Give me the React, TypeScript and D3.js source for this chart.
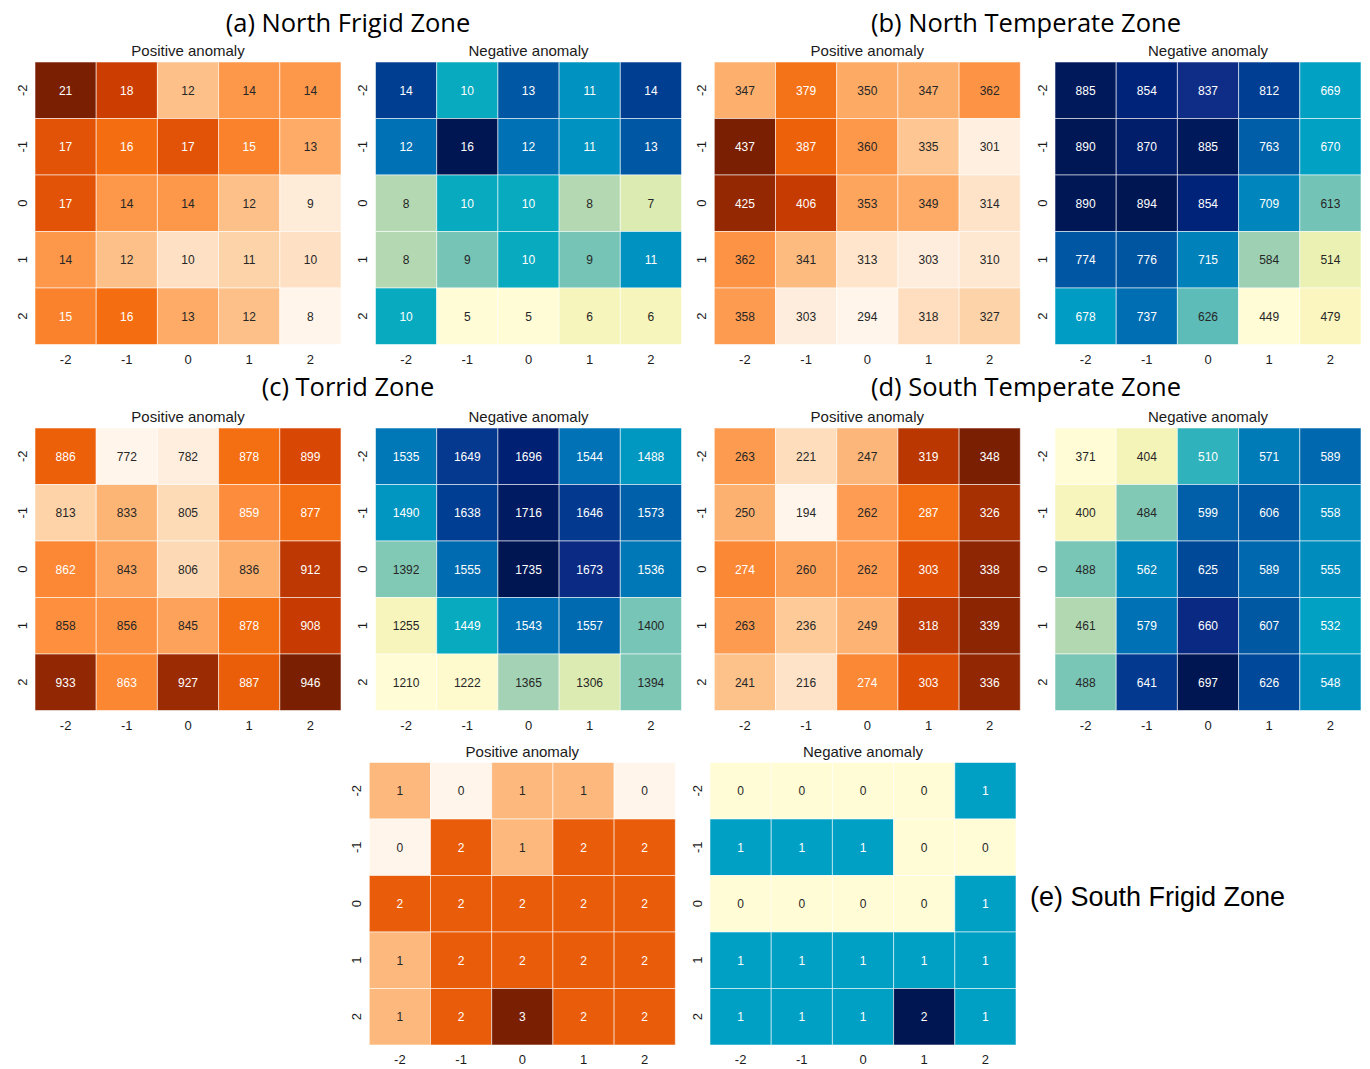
import React from "react";
import * as d3 from "d3";

// ---------------- data ----------------
const ROW_LABELS = ["-2", "-1", "0", "1", "2"];
const COL_LABELS = ["-2", "-1", "0", "1", "2"];
const SUBTITLES = ["Positive anomaly", "Negative anomaly"];

const TITLE_A = "(a) North Frigid Zone";
const TITLE_B = "(b) North Temperate Zone";
const TITLE_C = "(c) Torrid Zone";
const TITLE_D = "(d) South Temperate Zone";
const TITLE_E = "(e) South Frigid Zone";

const NF_POS = [
  [21, 18, 12, 14, 14],
  [17, 16, 17, 15, 13],
  [17, 14, 14, 12, 9],
  [14, 12, 10, 11, 10],
  [15, 16, 13, 12, 8],
];
const NF_NEG = [
  [14, 10, 13, 11, 14],
  [12, 16, 12, 11, 13],
  [8, 10, 10, 8, 7],
  [8, 9, 10, 9, 11],
  [10, 5, 5, 6, 6],
];
const NT_POS = [
  [347, 379, 350, 347, 362],
  [437, 387, 360, 335, 301],
  [425, 406, 353, 349, 314],
  [362, 341, 313, 303, 310],
  [358, 303, 294, 318, 327],
];
const NT_NEG = [
  [885, 854, 837, 812, 669],
  [890, 870, 885, 763, 670],
  [890, 894, 854, 709, 613],
  [774, 776, 715, 584, 514],
  [678, 737, 626, 449, 479],
];
const TZ_POS = [
  [886, 772, 782, 878, 899],
  [813, 833, 805, 859, 877],
  [862, 843, 806, 836, 912],
  [858, 856, 845, 878, 908],
  [933, 863, 927, 887, 946],
];
const TZ_NEG = [
  [1535, 1649, 1696, 1544, 1488],
  [1490, 1638, 1716, 1646, 1573],
  [1392, 1555, 1735, 1673, 1536],
  [1255, 1449, 1543, 1557, 1400],
  [1210, 1222, 1365, 1306, 1394],
];
const ST_POS = [
  [263, 221, 247, 319, 348],
  [250, 194, 262, 287, 326],
  [274, 260, 262, 303, 338],
  [263, 236, 249, 318, 339],
  [241, 216, 274, 303, 336],
];
const ST_NEG = [
  [371, 404, 510, 571, 589],
  [400, 484, 599, 606, 558],
  [488, 562, 625, 589, 555],
  [461, 579, 660, 607, 532],
  [488, 641, 697, 626, 548],
];
const SF_POS = [
  [1, 0, 1, 1, 0],
  [0, 2, 1, 2, 2],
  [2, 2, 2, 2, 2],
  [1, 2, 2, 2, 2],
  [1, 2, 3, 2, 2],
];
const SF_NEG = [
  [0, 0, 0, 0, 1],
  [1, 1, 1, 0, 0],
  [0, 0, 0, 0, 1],
  [1, 1, 1, 1, 1],
  [1, 1, 1, 2, 1],
];

// ---------------- colour maps ----------------
const ORANGE_DOMAIN = [0, 0.125, 0.25, 0.375, 0.5, 0.625, 0.75, 0.875, 1];
const ORANGE_RANGE = ["#fff5eb", "#fee6ce", "#fdd0a2", "#fdae6b", "#fd8d3c", "#f36a0c", "#d44002", "#a02d03", "#7a1f02"];
const BLUE_DOMAIN = [0, 0.07, 0.15, 0.27, 0.3, 0.37, 0.4, 0.45, 0.5, 0.58, 0.64, 0.71, 0.82, 0.87, 0.91, 1];
const BLUE_RANGE = ["#fffcd6", "#fbf6be", "#e9f1b1", "#b6dab2", "#a0d2b4", "#72c3b6", "#5bbab8", "#08abbe", "#00a0c4", "#0088bd", "#0070b4", "#005ca6", "#003d92", "#102d88", "#00237a", "#001652"];

const orangeMap = d3.scaleLinear<string>().domain(ORANGE_DOMAIN).range(ORANGE_RANGE).interpolate(d3.interpolateRgb).clamp(true);
const blueMap = d3.scaleLinear<string>().domain(BLUE_DOMAIN).range(BLUE_RANGE).interpolate(d3.interpolateRgb).clamp(true);

function luminance(c: string) {
  const rgb = d3.rgb(c);
  const f = (v: number) => {
    const s = v / 255;
    return s <= 0.03928 ? s / 12.92 : Math.pow((s + 0.055) / 1.055, 2.4);
  };
  return 0.2126 * f(rgb.r) + 0.7152 * f(rgb.g) + 0.0722 * f(rgb.b);
}

// ---------------- layout ----------------
const HM_W = 306;
const HM_H = 282.5;
const TITLE_FONT = "'Open Sans', 'Noto Sans', sans-serif";
const ARIAL = "'Liberation Sans', Arial, sans-serif";

const GROUPS = [
  { title: TITLE_A, pos: NF_POS, neg: NF_NEG, posX: 35, negX: 375.5, top: 62, tx: 348, ty: 32, anchor: "middle", font: TITLE_FONT, fs: 25.5 },
  { title: TITLE_B, pos: NT_POS, neg: NT_NEG, posX: 714.3, negX: 1055, top: 62, tx: 1026, ty: 32, anchor: "middle", font: TITLE_FONT, fs: 25.5 },
  { title: TITLE_C, pos: TZ_POS, neg: TZ_NEG, posX: 35, negX: 375.5, top: 428, tx: 348, ty: 396, anchor: "middle", font: TITLE_FONT, fs: 25.5 },
  { title: TITLE_D, pos: ST_POS, neg: ST_NEG, posX: 714.3, negX: 1055, top: 428, tx: 1026, ty: 396, anchor: "middle", font: TITLE_FONT, fs: 25.5 },
  { title: TITLE_E, pos: SF_POS, neg: SF_NEG, posX: 369.3, negX: 710, top: 762.5, tx: 1030, ty: 906, anchor: "start", font: ARIAL, fs: 27 },
];

type HeatProps = { data: number[][]; x: number; y: number; cmap: (t: number) => string; subtitle: string };

function Heatmap({ data, x, y, cmap, subtitle }: HeatProps) {
  const xs = d3.scaleBand<string>().domain(COL_LABELS).range([0, HM_W]);
  const ys = d3.scaleBand<string>().domain(ROW_LABELS).range([0, HM_H]);
  const flat = data.flat();
  const norm = d3.scaleLinear().domain([d3.min(flat)!, d3.max(flat)!]).range([0, 1]);
  return (
    <g transform={`translate(${x},${y})`}>
      <text x={HM_W / 2} y={-6} textAnchor="middle" fontFamily={ARIAL} fontSize={15} fill="#1a1a1a">
        {subtitle}
      </text>
      {data.map((row, ri) =>
        row.map((v, ci) => {
          const fill = cmap(norm(v));
          const tc = luminance(fill) > 0.408 ? "#262626" : "#ffffff";
          const cx = xs(COL_LABELS[ci])!;
          const cy = ys(ROW_LABELS[ri])!;
          return (
            <g key={`${ri}-${ci}`}>
              <rect x={cx} y={cy} width={xs.bandwidth()} height={ys.bandwidth()} fill={fill} stroke="rgba(255,255,255,0.55)" strokeWidth={1} />
              <text x={cx + xs.bandwidth() / 2} y={cy + ys.bandwidth() / 2} dy="0.36em" textAnchor="middle" fontFamily={ARIAL} fontSize={12} fill={tc}>
                {v}
              </text>
            </g>
          );
        })
      )}
      {COL_LABELS.map((l) => (
        <text key={"x" + l} x={xs(l)! + xs.bandwidth() / 2} y={HM_H + 19} textAnchor="middle" fontFamily={ARIAL} fontSize={13} fill="#1a1a1a">
          {l}
        </text>
      ))}
      {ROW_LABELS.map((l) => (
        <text key={"y" + l} transform={`translate(${-13},${ys(l)! + ys.bandwidth() / 2}) rotate(-90)`} dy="0.36em" textAnchor="middle" fontFamily={ARIAL} fontSize={13} fill="#1a1a1a">
          {l}
        </text>
      ))}
    </g>
  );
}

export default function App() {
  return (
    <svg width={1370} height={1069} style={{ position: "absolute", left: 0, top: 0, background: "#fff" }}>
      <rect width={1370} height={1069} fill="#fff" />
      {GROUPS.map((g, i) => (
        <g key={i}>
          <text x={g.tx} y={g.ty} textAnchor={g.anchor as any} fontFamily={g.font} fontSize={g.fs} fill="#000">
            {g.title}
          </text>
          <Heatmap data={g.pos} x={g.posX} y={g.top} cmap={(t) => orangeMap(t)} subtitle={SUBTITLES[0]} />
          <Heatmap data={g.neg} x={g.negX} y={g.top} cmap={(t) => blueMap(t)} subtitle={SUBTITLES[1]} />
        </g>
      ))}
    </svg>
  );
}
